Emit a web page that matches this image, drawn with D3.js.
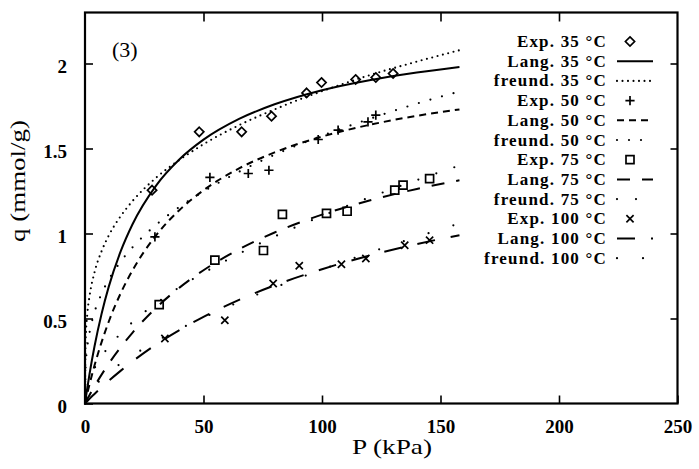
<!DOCTYPE html>
<html>
<head>
<meta charset="utf-8">
<script src="https://cdn.jsdelivr.net/npm/d3@7"></script>
<style>
  html, body { margin: 0; padding: 0; background: #fff; }
  svg { display: block; }
</style>
</head>
<body>
<svg id="chart" width="699" height="469"></svg>
<script>
// ---- data: adsorption isotherms, q (mmol/g) against P (kPa) ----
const xTicks = [0, 50, 100, 150, 200, 250];
const yTicks = [0, 0.5, 1, 1.5, 2];
const yTickLabels = ["0", "0.5", "1", "1.5", "2"];

// experimental points [P, q]
const exp35 = [[28.3,1.255],[48.2,1.598],[66.1,1.598],[78.7,1.69],[93.5,1.827],[99.8,1.888],[114.2,1.906],[122.7,1.918],[130,1.941]];
const exp50 = [[29.5,0.98],[52.7,1.33],[68.9,1.353],[77.6,1.372],[98.4,1.553],[106.8,1.608],[119.4,1.657],[122.7,1.696]];
const exp75 = [[31.3,0.582],[54.8,0.843],[75.3,0.90],[83.3,1.112],[101.9,1.118],[110.6,1.131],[130.7,1.255],[134.2,1.284],[145.4,1.323]];
const exp100 = [[33.7,0.382],[59,0.49],[79.4,0.706],[90.4,0.81],[108.2,0.819],[118.5,0.853],[134.9,0.931],[145.4,0.961]];

// Langmuir model curves [P, q]
const lang35 = [[0,0],[1,0.094],[2,0.181],[4,0.335],[7,0.528],[10,0.686],[15,0.893],[20,1.053],[30,1.282],[40,1.438],[50,1.552],[65,1.674],[80,1.76],[100,1.843],[120,1.902],[140,1.947],[158,1.98]];
const lang50 = [[0,0],[1,0.061],[2,0.118],[4,0.223],[7,0.361],[10,0.481],[15,0.647],[20,0.782],[30,0.989],[40,1.14],[50,1.254],[65,1.383],[80,1.477],[100,1.57],[120,1.639],[140,1.692],[158,1.73]];
const lang75 = [[0,0],[1,0.026],[2,0.052],[4,0.101],[7,0.17],[10,0.234],[15,0.33],[20,0.416],[30,0.563],[40,0.683],[50,0.784],[65,0.907],[80,1.006],[100,1.111],[120,1.194],[140,1.262],[158,1.313]];
const lang100 = [[0,0],[1,0.014],[2,0.029],[4,0.056],[7,0.095],[10,0.133],[15,0.192],[20,0.247],[30,0.347],[40,0.433],[50,0.51],[65,0.61],[80,0.695],[100,0.79],[120,0.87],[140,0.938],[158,0.99]];

// Freundlich model curves [P, q]
const freund35 = [[0,0],[0.25,0.365],[1,0.53],[2,0.639],[4,0.771],[7,0.896],[10,0.987],[15,1.101],[20,1.19],[30,1.328],[40,1.434],[50,1.525],[65,1.637],[80,1.73],[100,1.837],[120,1.931],[140,2.011],[158,2.078]];
const freund50 = [[0,0],[0.25,0.212],[1,0.337],[2,0.424],[4,0.536],[7,0.646],[10,0.728],[15,0.834],[20,0.918],[30,1.051],[40,1.158],[50,1.247],[65,1.363],[80,1.463],[100,1.575],[120,1.674],[140,1.764],[158,1.835]];
const freund75 = [[0,0],[0.25,0.049],[1,0.101],[2,0.144],[4,0.207],[7,0.277],[10,0.333],[15,0.411],[20,0.478],[30,0.589],[40,0.685],[50,0.768],[65,0.881],[80,0.982],[100,1.103],[120,1.212],[140,1.314],[158,1.40]];
const freund100 = [[0,0],[0.25,0.017],[1,0.042],[2,0.065],[4,0.101],[7,0.144],[10,0.181],[15,0.235],[20,0.282],[30,0.365],[40,0.439],[50,0.505],[65,0.597],[80,0.682],[100,0.788],[120,0.887],[140,0.98],[158,1.059]];

const legendLabels = [
  "Exp. 35 °C", "Lang. 35 °C", "freund. 35 °C",
  "Exp. 50 °C", "Lang. 50 °C", "freund. 50 °C",
  "Exp. 75 °C", "Lang. 75 °C", "freund. 75 °C",
  "Exp. 100 °C", "Lang. 100 °C", "freund. 100 °C"
];

// ---- styles ----
const FONT = "Liberation Serif";
const markerPaths = {
  diamond: "M0,-4.6L4.6,0L0,4.6L-4.6,0Z",
  plus: "M-4.6,0H4.6M0,-4.6V4.6",
  square: "M-4,-4H4V4H-4Z",
  times: "M-3.6,-3.6L3.6,3.6M-3.6,3.6L3.6,-3.6"
};
const lineStyles = {
  solid:    { dash: null,     width: 2,   cap: "butt" },
  dots:     { dash: "0,5.5",  width: 2.1, cap: "round" },
  shortDash:{ dash: "7,5",    width: 2,   cap: "butt" },
  dots2:    { dash: "0,12",   width: 2.2, cap: "round" },
  longDash: { dash: "13,12",  width: 2,   cap: "butt" },
  dots3:    { dash: "0,19",   width: 2.2, cap: "round" },
  dash4:    { dash: "18,16",  width: 2,   cap: "butt" },
  dots4:    { dash: "0,26",   width: 2.2, cap: "round" }
};

const entries = [
  { type: "marker", data: exp35,  marker: "diamond" },
  { type: "line",   data: lang35, style: "solid" },
  { type: "line",   data: freund35, style: "dots" },
  { type: "marker", data: exp50,  marker: "plus" },
  { type: "line",   data: lang50, style: "shortDash" },
  { type: "line",   data: freund50, style: "dots2" },
  { type: "marker", data: exp75,  marker: "square" },
  { type: "line",   data: lang75, style: "longDash" },
  { type: "line",   data: freund75, style: "dots3" },
  { type: "marker", data: exp100, marker: "times" },
  { type: "line",   data: lang100, style: "dash4" },
  { type: "line",   data: freund100, style: "dots4" }
];

// ---- layout ----
const svg = d3.select("#chart");
const x = d3.scaleLinear().domain([0, 250]).range([85, 677.5]);
const y = d3.scaleLinear().domain([0, 2.3]).range([403.5, 12.5]);

const line = d3.line()
  .x(d => x(d[0]))
  .y(d => y(d[1]))
  .curve(d3.curveMonotoneX);

// curves
const plot = svg.append("g");
entries.filter(e => e.type === "line").forEach(e => {
  const s = lineStyles[e.style];
  plot.append("path")
    .attr("d", line(e.data))
    .attr("fill", "none")
    .attr("stroke", "#000")
    .attr("stroke-width", s.width)
    .attr("stroke-linecap", s.cap)
    .attr("stroke-dasharray", s.dash);
});

// experimental markers
entries.filter(e => e.type === "marker").forEach(e => {
  plot.selectAll(null)
    .data(e.data)
    .enter().append("path")
    .attr("transform", d => `translate(${x(d[0])},${y(d[1])})`)
    .attr("d", markerPaths[e.marker])
    .attr("fill", "none")
    .attr("stroke", "#000")
    .attr("stroke-width", 1.7);
});

// axes with inward ticks on all four sides
function styleAxis(g) {
  g.attr("font-family", FONT).attr("font-size", 19).attr("font-weight", "bold");
  g.select(".domain").remove();
  g.selectAll(".tick line").attr("stroke", "#000").attr("stroke-width", 1.6);
  g.selectAll(".tick text")
    .attr("fill", "#000")
    .attr("font-family", FONT)
    .attr("font-weight", "bold")
    .attr("font-size", 19);
}

svg.append("g")
  .attr("transform", `translate(0,${y(0)})`)
  .call(d3.axisBottom(x).tickValues(xTicks).tickFormat(d3.format("d"))
    .tickSizeInner(-8).tickSizeOuter(0).tickPadding(16))
  .call(styleAxis);

svg.append("g")
  .attr("transform", `translate(0,${y(2.3)})`)
  .call(d3.axisTop(x).tickValues(xTicks.slice(1, -1)).tickFormat("")
    .tickSizeInner(-9).tickSizeOuter(0))
  .call(styleAxis);

svg.append("g")
  .attr("transform", `translate(${x(0)},0)`)
  .call(d3.axisLeft(y).tickValues(yTicks).tickFormat((d, i) => yTickLabels[i])
    .tickSizeInner(-8).tickSizeOuter(0).tickPadding(18))
  .call(styleAxis)
  .call(g => g.selectAll(".tick text").attr("dy", "0.45em"));

svg.append("g")
  .attr("transform", `translate(${x(250)},0)`)
  .call(d3.axisRight(y).tickValues(yTicks.slice(1)).tickFormat("")
    .tickSizeInner(-7).tickSizeOuter(0))
  .call(styleAxis);

// frame
svg.append("rect")
  .attr("x", x(0)).attr("y", y(2.3))
  .attr("width", x(250) - x(0)).attr("height", y(0) - y(2.3))
  .attr("fill", "none").attr("stroke", "#000").attr("stroke-width", 2.2);

// axis titles
svg.append("text")
  .attr("x", 392).attr("y", 454)
  .attr("text-anchor", "middle")
  .attr("font-family", FONT).attr("font-size", 22)
  .attr("textLength", 80).attr("lengthAdjust", "spacingAndGlyphs")
  .text("P (kPa)");

svg.append("text")
  .attr("transform", "translate(25,181) rotate(-90)")
  .attr("text-anchor", "middle")
  .attr("font-family", FONT).attr("font-size", 21)
  .attr("textLength", 122).attr("lengthAdjust", "spacingAndGlyphs")
  .text("q (mmol/g)");

svg.append("text")
  .attr("x", 112).attr("y", 57)
  .attr("font-family", FONT).attr("font-size", 22)
  .text("(3)");

// legend
const legend = svg.append("g");
const rowY = i => 41.5 + i * 19.7;
entries.forEach((e, i) => {
  const yy = rowY(i);
  legend.append("text")
    .attr("x", 607).attr("y", yy + 5.5)
    .attr("text-anchor", "end")
    .attr("font-family", FONT).attr("font-weight", "bold").attr("font-size", 17)
    .attr("letter-spacing", 1.2)
    .text(legendLabels[i]);
  if (e.type === "marker") {
    legend.append("path")
      .attr("transform", `translate(630,${yy})`)
      .attr("d", markerPaths[e.marker])
      .attr("fill", "none").attr("stroke", "#000").attr("stroke-width", 1.7);
  } else {
    const s = lineStyles[e.style];
    legend.append("line")
      .attr("x1", 617).attr("x2", 653).attr("y1", yy).attr("y2", yy)
      .attr("stroke", "#000")
      .attr("stroke-width", s.width)
      .attr("stroke-linecap", s.cap)
      .attr("stroke-dasharray", s.dash);
  }
});
</script>
</body>
</html>
